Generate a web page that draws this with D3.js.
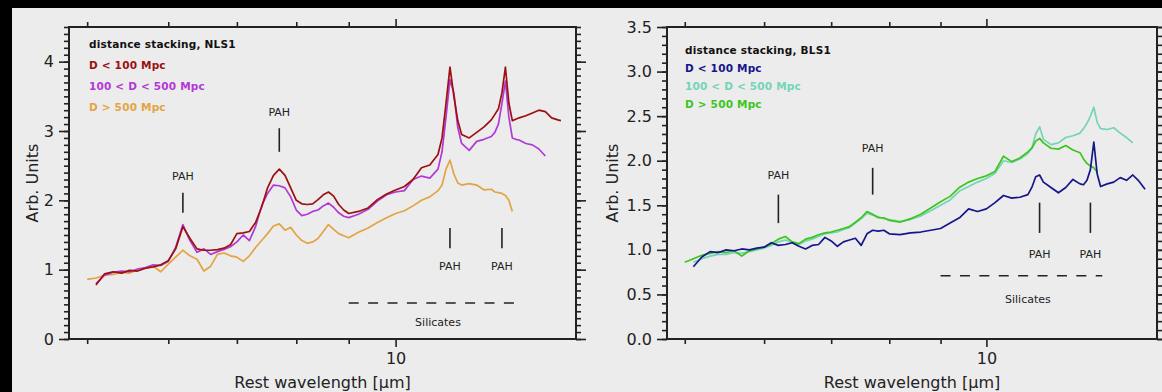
<!DOCTYPE html>
<html>
<head>
<meta charset="utf-8">
<script src="https://cdn.jsdelivr.net/npm/d3@7"></script>
<style>
  html, body { margin: 0; padding: 0; background: #000; }
  svg { display: block; }
  text { font-family: "DejaVu Sans", sans-serif; fill: #222; }
</style>
</head>
<body>
<svg id="chart" width="1162" height="392"></svg>
<script>
// rest wavelengths (micron) of the NLS1 stacks
const waveNLS = [5.0,5.1,5.2,5.3,5.4,5.5,5.6,5.7,5.8,5.9,6.0,6.1,6.2,6.3,6.4,6.5,6.6,6.7,6.8,6.9,
  7.0,7.1,7.2,7.3,7.4,7.5,7.6,7.7,7.8,7.9,8.0,8.1,8.2,8.3,8.4,8.5,8.6,8.7,8.8,8.9,9.0,
  9.2,9.4,9.6,9.8,10.0,10.2,10.4,10.6,10.8,11.0,11.1,11.2,11.3,11.4,11.5,11.6,
  11.8,12.0,12.2,12.4,12.5,12.6,12.7,12.8,12.9,13.0,13.1,13.2,13.4,13.6,13.8,14.0,14.2,14.4,14.5];

const nlsNear = [null,0.78,0.94,0.97,0.95,0.99,0.98,1.02,1.04,1.07,1.13,1.30,1.62,1.45,1.30,1.28,1.28,1.29,1.31,1.36,
  1.52,1.53,1.55,1.68,1.90,2.18,2.36,2.45,2.36,2.18,2.00,1.95,1.94,1.95,2.01,2.08,2.12,2.06,1.94,1.86,1.81,
  1.84,1.89,2.01,2.09,2.15,2.20,2.30,2.47,2.51,2.66,2.90,3.40,3.92,3.50,3.15,2.95,
  2.90,2.98,3.06,3.16,3.24,3.32,3.55,3.92,3.40,3.15,3.17,3.19,3.22,3.26,3.30,3.28,3.19,3.16,3.15];

const nlsMid = [null,0.80,0.92,0.96,0.98,0.97,1.01,1.03,1.07,1.06,1.12,1.32,1.65,1.42,1.25,1.30,1.22,1.26,1.29,1.33,
  1.40,1.50,1.42,1.62,1.92,2.10,2.22,2.21,2.18,2.05,1.86,1.78,1.80,1.84,1.86,1.92,1.96,1.90,1.82,1.77,1.75,
  1.80,1.87,1.99,2.08,2.12,2.14,2.30,2.35,2.32,2.45,2.70,3.20,3.74,3.55,3.05,2.82,
  2.72,2.85,2.88,2.92,2.98,3.10,3.40,3.72,3.20,2.90,2.88,2.87,2.82,2.80,2.74,2.64,null,null,null];

const nlsFar = [0.86,0.88,0.92,0.93,0.96,0.95,1.00,1.02,1.05,0.97,1.08,1.18,1.28,1.20,1.15,0.98,1.05,1.22,1.24,1.20,
  1.18,1.12,1.20,1.32,1.42,1.52,1.63,1.66,1.57,1.61,1.50,1.42,1.38,1.40,1.45,1.55,1.65,1.58,1.52,1.49,1.46,
  1.54,1.60,1.68,1.75,1.81,1.85,1.92,2.00,2.05,2.14,2.22,2.45,2.58,2.38,2.25,2.22,
  2.24,2.22,2.15,2.16,2.12,2.11,2.10,2.07,2.00,1.84,null,null,null,null,null,null,null,null,null];

// rest wavelengths (micron) of the BLS1 stacks
const waveBLS = [5.0,5.1,5.2,5.3,5.4,5.5,5.6,5.7,5.8,5.9,6.0,6.1,6.2,6.3,6.4,6.5,6.6,6.7,6.8,6.9,
  7.0,7.1,7.2,7.3,7.4,7.5,7.6,7.7,7.8,7.9,8.0,8.2,8.4,8.6,8.8,9.0,9.2,9.4,9.6,9.8,10.0,
  10.2,10.4,10.6,10.8,11.0,11.1,11.2,11.3,11.4,11.6,11.8,12.0,12.2,12.4,
  12.5,12.6,12.7,12.8,12.9,13.0,13.2,13.4,13.6,13.8,14.0,14.2,14.4];

const blsNear = [null,0.81,0.92,0.98,0.97,1.00,0.99,1.01,1.00,1.02,1.03,1.08,1.05,1.06,1.08,1.04,1.01,1.05,1.06,1.14,
  1.10,1.04,1.09,1.11,1.13,1.05,1.18,1.22,1.21,1.22,1.18,1.17,1.19,1.20,1.22,1.24,1.30,1.36,1.46,1.43,1.46,
  1.53,1.61,1.58,1.59,1.62,1.70,1.82,1.84,1.76,1.70,1.64,1.70,1.79,1.74,
  1.73,1.78,1.90,2.21,1.85,1.71,1.74,1.76,1.81,1.78,1.84,1.77,1.68];

const blsMid = [null,0.86,0.90,0.93,0.95,0.95,0.97,0.96,0.98,1.00,1.02,1.05,1.09,1.11,1.08,1.06,1.10,1.12,1.15,1.18,
  1.19,1.20,1.23,1.25,1.30,1.35,1.41,1.39,1.37,1.35,1.34,1.32,1.34,1.38,1.44,1.50,1.56,1.66,1.71,1.76,1.80,
  1.86,2.00,1.98,2.02,2.08,2.14,2.30,2.38,2.24,2.18,2.20,2.26,2.28,2.31,
  2.36,2.42,2.50,2.60,2.43,2.36,2.35,2.37,2.31,2.26,2.20,null,null];

const blsFar = [0.86,0.90,0.94,0.96,0.98,0.97,0.99,0.93,0.99,1.01,1.03,1.07,1.12,1.15,1.09,1.07,1.12,1.14,1.17,1.19,
  1.20,1.22,1.24,1.26,1.31,1.36,1.43,1.40,1.36,1.36,1.33,1.31,1.35,1.40,1.47,1.54,1.60,1.70,1.76,1.80,1.83,
  1.88,2.05,1.99,2.03,2.10,2.14,2.22,2.25,2.20,2.14,2.13,2.17,2.12,2.09,
  2.02,1.97,1.94,1.92,1.87,null,null,null,null,null,null,null,null];

const xMinorTicks = [5, 6, 7, 8, 9];
const xMajorTicks = [10];
const nlsYTicks = [0, 1, 2, 3, 4];
const blsYTicks = [0, 0.5, 1.0, 1.5, 2.0, 2.5, 3.0, 3.5];

const svg = d3.select("#chart");

svg.append("rect")
  .attr("x", 12).attr("y", 8)
  .attr("width", 1150).attr("height", 384)
  .attr("fill", "#ececec");

function drawPanel(p) {
  const x = d3.scaleLog().domain(p.xDomain).range([p.left, p.right]);
  const y = d3.scaleLinear().domain(p.yDomain).range([p.bottom, p.top]);
  const g = svg.append("g");

  // spectra
  const line = d3.line()
    .defined(d => d.v != null)
    .x(d => x(d.w))
    .y(d => y(d.v));

  p.series.forEach(s => {
    const pts = p.wave.map((w, i) => ({ w: w, v: s.values[i] }));
    g.append("path")
      .datum(pts)
      .attr("fill", "none")
      .attr("stroke", s.color)
      .attr("stroke-width", 1.7)
      .attr("stroke-linejoin", "round")
      .attr("d", line);
  });

  // axes: minor ticks first, then labelled majors
  const yMinor = d3.range(p.yDomain[0], p.yDomain[1] + 0.001, 0.1);
  const axes = [
    [d3.axisBottom(x).tickValues(xMinorTicks).tickSize(5).tickFormat(""), `translate(0,${p.bottom})`],
    [d3.axisBottom(x).tickValues(xMajorTicks).tickSize(8).tickFormat(d3.format("d")).tickPadding(6), `translate(0,${p.bottom})`],
    [d3.axisTop(x).tickValues(xMinorTicks).tickSize(5).tickFormat(""), `translate(0,${p.top})`],
    [d3.axisTop(x).tickValues(xMajorTicks).tickSize(8).tickFormat(""), `translate(0,${p.top})`],
    [d3.axisLeft(y).tickValues(yMinor).tickSize(5).tickFormat(""), `translate(${p.left},0)`],
    [d3.axisLeft(y).tickValues(p.yTicks).tickSize(10).tickFormat(p.yFormat).tickPadding(5), `translate(${p.left},0)`],
    [d3.axisRight(y).tickValues(yMinor).tickSize(5).tickFormat(""), `translate(${p.right},0)`],
    [d3.axisRight(y).tickValues(p.yTicks).tickSize(10).tickFormat(""), `translate(${p.right},0)`]
  ];
  axes.forEach(a => {
    const ax = g.append("g").attr("transform", a[1]).call(a[0]);
    ax.select(".domain").remove();
    ax.selectAll(".tick line").attr("stroke", "#222").attr("stroke-width", 1.6);
    ax.selectAll(".tick text")
      .attr("fill", "#222")
      .style("font-family", "DejaVu Sans, sans-serif")
      .style("font-size", "16px");
  });

  g.append("rect")
    .attr("x", p.left).attr("y", p.top)
    .attr("width", p.right - p.left).attr("height", p.bottom - p.top)
    .attr("fill", "none")
    .attr("stroke", "#222")
    .attr("stroke-width", 2);

  // axis titles
  g.append("text")
    .attr("x", (p.left + p.right) / 2)
    .attr("y", 388)
    .attr("text-anchor", "middle")
    .style("font-size", "16px")
    .text("Rest wavelength [\u03bcm]");

  g.append("text")
    .attr("transform", `translate(${p.left - p.yTitleDx},${(p.top + p.bottom) / 2}) rotate(-90)`)
    .attr("text-anchor", "middle")
    .style("font-size", "16px")
    .text("Arb. Units");

  // legend block
  const leg = [{ label: p.title, color: "#111" }].concat(p.series.slice().sort((a, b) => a.order - b.order));
  leg.forEach((s, i) => {
    g.append("text")
      .attr("x", p.left + p.legendDx)
      .attr("y", p.legendY + i * p.legendStep)
      .style("font-size", "10.5px")
      .style("letter-spacing", "0.2px")
      .style("font-weight", "bold")
      .style("fill", s.color)
      .text(s.label);
  });

  // PAH markers
  p.pah.forEach(m => {
    g.append("line")
      .attr("x1", x(m.w)).attr("x2", x(m.w))
      .attr("y1", y(m.v0)).attr("y2", y(m.v1))
      .attr("stroke", "#222").attr("stroke-width", 1.6);
    g.append("text")
      .attr("x", x(m.w))
      .attr("y", y(m.vt))
      .attr("text-anchor", "middle")
      .attr("dy", "0.35em")
      .style("font-size", "11px")
      .text("PAH");
  });

  // silicate band
  g.append("line")
    .attr("x1", x(9.0)).attr("x2", x(13.05))
    .attr("y1", y(p.silV)).attr("y2", y(p.silV))
    .attr("stroke", "#222").attr("stroke-width", 1.6)
    .attr("stroke-dasharray", "10,9.4");
  g.append("text")
    .attr("x", x(11.0))
    .attr("y", y(p.silTextV))
    .attr("text-anchor", "middle")
    .attr("dy", "0.35em")
    .style("font-size", "11px")
    .text("Silicates");
}

drawPanel({
  left: 69, right: 576, top: 27, bottom: 339,
  xDomain: [4.8, 15], yDomain: [0, 4.5],
  yTicks: nlsYTicks, yFormat: d3.format("d"), yTitleDx: 31,
  wave: waveNLS,
  title: "distance stacking, NLS1",
  legendDx: 20, legendY: 48, legendStep: 21,
  series: [
    { label: "D > 500 Mpc", values: nlsFar, color: "#e3a443", order: 3 },
    { label: "100 < D < 500 Mpc", values: nlsMid, color: "#b13ad6", order: 2 },
    { label: "D < 100 Mpc", values: nlsNear, color: "#9c1010", order: 1 }
  ],
  pah: [
    { w: 6.2, v0: 1.82, v1: 2.11, vt: 2.35 },
    { w: 7.7, v0: 2.70, v1: 3.04, vt: 3.27 },
    { w: 11.3, v0: 1.31, v1: 1.60, vt: 1.05 },
    { w: 12.7, v0: 1.31, v1: 1.60, vt: 1.05 }
  ],
  silV: 0.52, silTextV: 0.245
});

drawPanel({
  left: 667, right: 1157, top: 27, bottom: 339,
  xDomain: [4.8, 14.8], yDomain: [0, 3.5],
  yTicks: blsYTicks, yFormat: d3.format(".1f"), yTitleDx: 49,
  wave: waveBLS,
  title: "distance stacking, BLS1",
  legendDx: 18, legendY: 54, legendStep: 18,
  series: [
    { label: "100 < D < 500 Mpc", values: blsMid, color: "#74d4b8", order: 2 },
    { label: "D > 500 Mpc", values: blsFar, color: "#3cc61c", order: 3 },
    { label: "D < 100 Mpc", values: blsNear, color: "#16168a", order: 1 }
  ],
  pah: [
    { w: 6.2, v0: 1.30, v1: 1.62, vt: 1.84 },
    { w: 7.7, v0: 1.62, v1: 1.92, vt: 2.14 },
    { w: 11.3, v0: 1.19, v1: 1.53, vt: 0.95 },
    { w: 12.7, v0: 1.19, v1: 1.53, vt: 0.95 }
  ],
  silV: 0.71, silTextV: 0.45
});
</script>
</body>
</html>
